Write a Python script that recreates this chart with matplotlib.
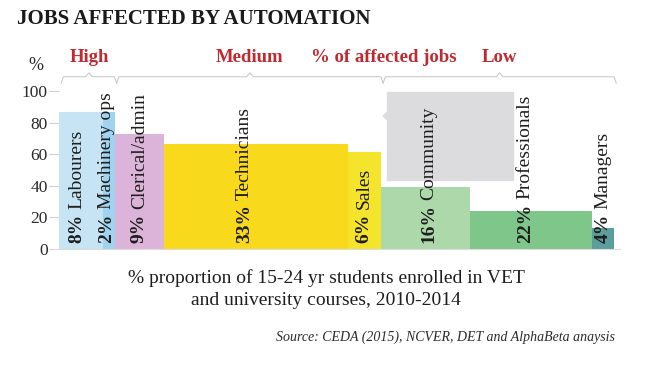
import matplotlib
matplotlib.use("Agg")
import matplotlib.pyplot as plt
import numpy as np

plt.rcParams["font.family"] = ["Liberation Serif", "DejaVu Serif"]

# 数据：宽度 = 学生占比（%），高度 = 受自动化影响的岗位比例（%）
jobs = ["Labourers", "Machinery ops", "Clerical/admin", "Technicians",
        "Sales", "Community", "Professionals", "Managers"]
share = [8, 2, 9, 33, 6, 16, 22, 4]
affected = [87, 87, 73, 66.5, 61.5, 39, 24, 13]
colors = ["#c6e4f4", "#9fd3ef", "#dcb3d9", "#f8d91b",
          "#f4e42c", "#acd8aa", "#7fc68a", "#5c9e9b"]
yticks = [0, 20, 40, 60, 80, 100]

# 影响程度分组：(标签, 起始柱序号, 结束柱序号)
groups = [("High", 0, 1), ("Medium", 2, 4), ("Low", 5, 7)]

# 标签相对柱中心的水平微调（数据单位）
label_dx = [-0.7, -0.4, 0, -2.1, 0, 0.7, -1.0, 0]

RED = "#bf2a30"
INK = "#1e1e1e"

fig = plt.figure(figsize=(6.5, 3.66), dpi=100)
ax = fig.add_axes([59 / 650, 1 - 249 / 366, 555 / 650, 158 / 366])

left = np.concatenate([[0], np.cumsum(share)[:-1]])
ax.bar(left, affected, width=share, align="edge", color=colors,
       edgecolor="none", zorder=2)

# 灰色提示框
ax.add_patch(plt.Rectangle((59.1, 43.7), 22.7, 55.7, color="#dcdcde",
                           zorder=1, clip_on=False))
ax.add_patch(plt.Polygon([[58.4, 84.2], [59.2, 86.8], [59.2, 81.6]],
                         color="#dcdcde", zorder=1, clip_on=False))

# 柱内竖排标签：百分比加粗 + 职业名
for x0, w, s, name, dx in zip(left, share, share, jobs, label_dx):
    t = ax.text(x0 + w / 2 + dx, 3.5, f"{s}%", rotation=90, ha="center",
                va="bottom", fontsize=14, fontweight="bold", color=INK,
                zorder=4)
    ax.annotate(name, xy=(0.5, 1), xycoords=t, xytext=(0, 3.5),
                textcoords="offset points", rotation=90, ha="center",
                va="bottom", fontsize=14, color=INK, zorder=4,
                annotation_clip=False)

# 顶部分组括号
for label, i0, i1 in groups:
    x0 = left[i0] + 0.4
    x1 = left[i1] + share[i1] + 0.4
    mid = (x0 + x1) / 2
    xs = [x0, x0 + 0.4, mid - 0.6, mid, mid + 0.6, x1 - 0.4, x1]
    ys = [105, 109, 109, 111.5, 109, 109, 105]
    ax.plot(xs, ys, color="#c4c4c4", lw=0.7, clip_on=False)
    ax.text(mid, 121.5, label, ha="center", va="center", fontsize=13.5,
            fontweight="bold", color=RED)
ax.text(58.5, 121.5, "% of affected jobs", ha="center", va="center",
        fontsize=13.5, fontweight="bold", color=RED)

ax.set_xlim(0, 100)
ax.set_ylim(0, 100)
ax.set_xticks([])
ax.set_yticks(yticks)
ax.set_yticklabels([str(v) for v in yticks], fontsize=12.5, color="#2a2a2a")
ax.tick_params(axis="y", length=7, width=0.8, color="#d0d0d0", pad=1,
               direction="out")
for side in ["top", "right", "left"]:
    ax.spines[side].set_visible(False)
ax.spines["bottom"].set_color("#dcdcdc")
ax.spines["bottom"].set_bounds(-1, 101)
ax.patch.set_alpha(0)

fig.text(36 / 650, 1 - 65 / 366, "%", ha="center", va="center",
         fontsize=13, color="#2a2a2a")
fig.text(17 / 650, 1 - 19 / 366, "JOBS AFFECTED BY AUTOMATION", ha="left",
         va="center", fontsize=15, fontweight="bold", color="#1a1a1a")
fig.text(326 / 650, 1 - 289 / 366,
         "% proportion of 15-24 yr students enrolled in VET\n"
         "and university courses, 2010-2014",
         ha="center", va="center", fontsize=14, color="#1e1e1e",
         linespacing=1.4)
fig.text(615 / 650, 1 - 337 / 366,
         "Source: CEDA (2015), NCVER, DET and AlphaBeta anaysis",
         ha="right", va="center", fontsize=10, style="italic",
         color="#2a2a2a")

fig.savefig("out.png", dpi=100, facecolor="white")
